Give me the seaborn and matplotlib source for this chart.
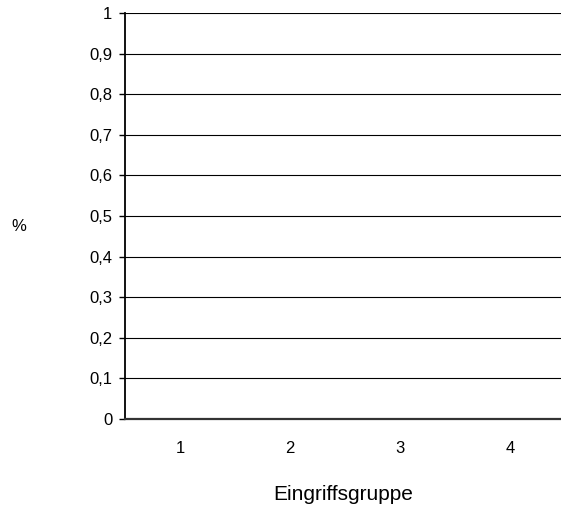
"""Leeres Säulendiagramm: Anteil (%) je Eingriffsgruppe."""

import matplotlib

matplotlib.use("Agg")

import matplotlib.pyplot as plt
import pandas as pd
import seaborn as sns
from matplotlib.ticker import FuncFormatter

sns.set_theme(style="white")
plt.rcParams["font.family"] = ["Liberation Sans", "DejaVu Sans"]
plt.rcParams["text.color"] = "black"
plt.rcParams["axes.labelcolor"] = "black"
plt.rcParams["xtick.color"] = "black"
plt.rcParams["ytick.color"] = "black"

# Daten: vier Gruppen, keine Werte > 0 im Diagramm
gruppen = ["1", "2", "3", "4"]
anteile = [0, 0, 0, 0]
y_ticks = [0, 0.1, 0.2, 0.3, 0.4, 0.5, 0.6, 0.7, 0.8, 0.9, 1]

df = pd.DataFrame({"Eingriffsgruppe": gruppen, "Anteil": anteile})

fig = plt.figure(figsize=(5.61, 5.13), dpi=100)
ax = fig.add_axes([125 / 561, 94 / 513, 436 / 561, 406 / 513])

sns.barplot(data=df, x="Eingriffsgruppe", y="Anteil", color="#9999ff", ax=ax)

ax.set_ylim(0, 1)
ax.set_xlim(-0.5, 3.464)
ax.set_yticks(y_ticks)
ax.yaxis.set_major_formatter(FuncFormatter(lambda v, _: f"{v:g}".replace(".", ",")))
ax.grid(axis="y", color="#000000", linewidth=0.8)
ax.set_axisbelow(True)

for s in ("top", "right"):
    ax.spines[s].set_visible(False)
ax.spines["left"].set_color("#000000")
ax.spines["left"].set_linewidth(1.3)
ax.spines["bottom"].set_color("#333333")
ax.spines["bottom"].set_linewidth(1.6)

ax.tick_params(axis="y", direction="out", length=4, width=1, color="#000000",
               labelcolor="#000000", labelsize=12, pad=5, left=True)
ax.tick_params(axis="x", length=0, labelcolor="#000000", labelsize=12, pad=16)

ax.set_xlabel("Eingriffsgruppe", fontsize=15, labelpad=21, color="#000000")
ax.set_ylabel("%", fontsize=12, rotation=0, va="center", ha="center", color="#000000")
ax.yaxis.set_label_coords(-0.244, 0.473)

fig.savefig("out.png", dpi=100)
